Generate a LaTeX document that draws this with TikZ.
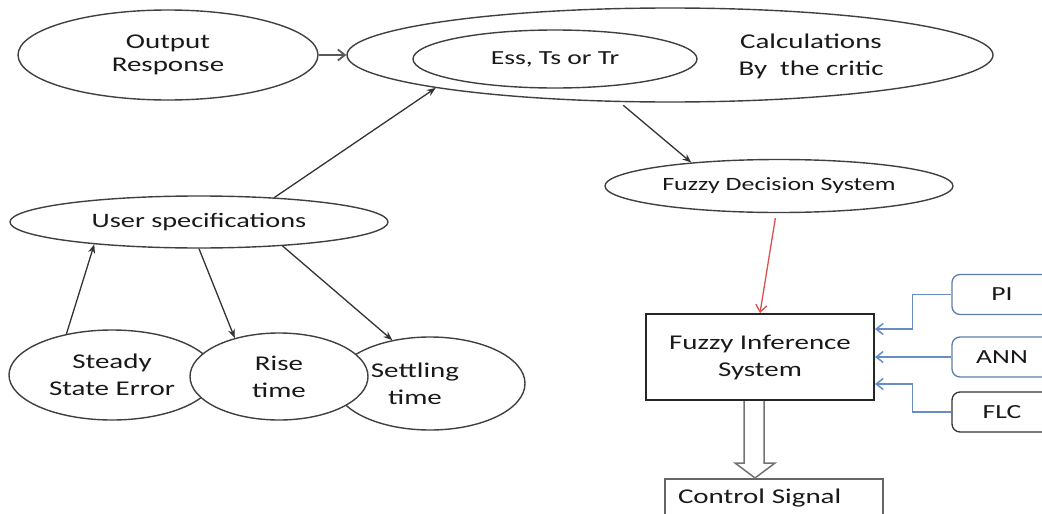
\documentclass[tikz,border=0pt]{standalone}
\usepackage{fontspec}
\setmainfont[FakeStretch=1.38]{Carlito}
\usetikzlibrary{shapes.geometric,arrows.meta,calc}
\definecolor{bluel}{RGB}{105,140,196}
\definecolor{blueb}{RGB}{95,125,175}
\definecolor{redl}{RGB}{220,80,80}
\begin{document}
\begin{tikzpicture}[x=1pt,y=-1pt,
  ell/.style={ellipse, draw=black!75, line width=1.4pt, fill=white, inner sep=0pt, align=center, text=black!90},
  conn/.style={draw=black!80, line width=1.3pt, -{Stealth[length=9pt,width=7pt]}},
  openconn/.style={draw=black!65, line width=1.8pt, -{Straight Barb[length=7pt,width=11pt]}},
  bluearr/.style={draw=bluel, line width=1.5pt, -{Straight Barb[length=7pt,width=11pt]}},
  redarr/.style={draw=redl, line width=1.3pt, -{Straight Barb[length=7pt,width=11pt]}},
  rbox/.style={rectangle, rounded corners=8pt, minimum width=100pt, minimum height=40pt, line width=1.3pt, fill=white, font=\fontsize{20}{24}\selectfont, text=black!90},
  big/.style={font=\fontsize{21}{27}\selectfont},
  blockarrow/.style={draw=black!55, line width=1.5pt, fill=white, line join=miter},
]
\useasboundingbox (0,0) rectangle (1042,514);
\clip (0,0) rectangle (1042,514);

% top row
\node[ell, minimum width=300pt, minimum height=90pt, font=\fontsize{21}{22.5}\selectfont] (out) at (168,55) {Output\\Response};
\node[ell, minimum width=646pt, minimum height=94pt] (calc) at (670,55) {};
\node[ell, minimum width=284pt, minimum height=58pt, font=\fontsize{20}{24}\selectfont] (ess) at (555,59) {Ess, Ts or Tr};
\node[align=center, big, text=black!90] (calctext) at (811,56) {Calculations\\By\ \ the critic};

% fuzzy decision
\node[ell, minimum width=348pt, minimum height=53pt, font=\fontsize{18.8}{21}\selectfont] (fd) at (779,186) {Fuzzy Decision System};

% user specs
\node[ell, minimum width=378pt, minimum height=52pt, font=\fontsize{20.5}{24}\selectfont] (user) at (199,222) {User specifications};

% bottom ellipses
\node[ell, minimum width=206pt, minimum height=90pt, big] (sse) at (112,375) {Steady\\State Error};
\node[ell, minimum width=190pt, minimum height=93pt,
      label={[xshift=-15pt, align=center, big, text=black!90]center:{Settling\\time}}] (set) at (430,383.5) {};
\node[ell, minimum width=178pt, minimum height=87pt, big] (rise) at (279,376.5) {Rise\\time};

% fuzzy inference system
\node[draw=black!85, line width=2pt, minimum width=228pt, minimum height=86pt, align=center, big, text=black!90] (fis) at (760,357) {Fuzzy Inference\\System};

% control signal
\node[draw=black!60, line width=1.5pt, anchor=north, inner ysep=6pt, inner xsep=13pt, text width=192pt, align=left, text height=19pt, text depth=20pt, font=\fontsize{21}{25}\selectfont, text=black!90] (cs) at (774,478) {Control Signal};

% controller boxes
\node[rbox, draw=blueb] (pi) at (1002,294.5) {PI};
\node[rbox, draw=blueb] (ann) at (1002,357) {ANN};
\node[rbox, draw=black!80] (flc) at (1002,412) {FLC};

% connectors
\draw[openconn] (out.east) -- (calc.west);
\draw[conn] (user.18) -- (calc.188);
\draw[conn, shorten <=5pt] (calc.223) -- (fd.165);
\draw[redarr, shorten <=5pt] (fd.264) -- (fis.north);
\draw[conn] (sse.138) -- (user.192);
\draw[conn] (user.south) -- (rise.139);
\draw[conn] (user.344) -- (set.131);

\draw[bluearr] (pi.west) -- ++(-39,0) |- ($(fis.east)+(0,-28)$);
\draw[bluearr] (ann.west) -- (fis.east |- ann.west);
\draw[bluearr] (flc.west) -- ++(-39,0) |- ($(fis.east)+(0,27)$);

% block arrow from the inference box down to the control signal box
\coordinate (ba) at (fis.south);
\coordinate (tip) at ($(ba)+(-5,77)$);
\draw[blockarrow]
  ($(ba)+(-16,0)$) -- ($(ba)+(-16,62)$) -- ($(ba)+(-25,62)$)
  -- (tip) -- ($(ba)+(15,62)$)
  -- ($(ba)+(4,62)$) -- ($(ba)+(4,0)$);
\end{tikzpicture}
\end{document}
